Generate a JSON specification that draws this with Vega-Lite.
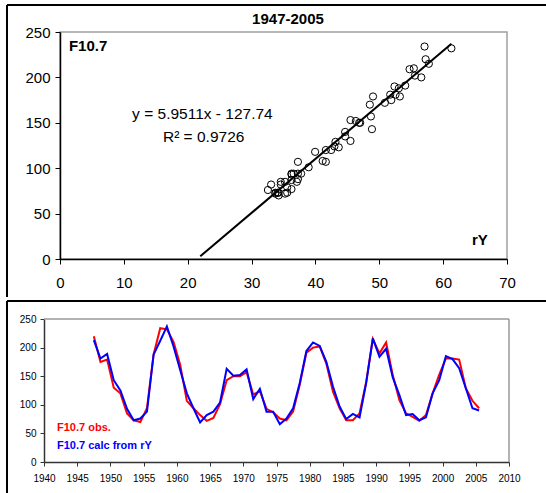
{
  "$schema": "https://vega.github.io/schema/vega-lite/v6.json",
  "padding": {"left": 5, "top": 3, "right": 0, "bottom": 0},
  "background": "white",
  "spacing": 0,
  "config": {"font": "Liberation Sans", "axis": {"grid": false}},
  "datasets": {
    "annual": [
      {"year": 1947.5, "obs": 220, "calc": 213, "rY": 57.26},
      {"year": 1948.5, "obs": 175, "calc": 181, "rY": 51.88},
      {"year": 1949.5, "obs": 179, "calc": 189, "rY": 53.22},
      {"year": 1950.5, "obs": 130, "calc": 143, "rY": 45.49},
      {"year": 1951.5, "obs": 120, "calc": 125, "rY": 42.47},
      {"year": 1952.5, "obs": 85, "calc": 93, "rY": 37.09},
      {"year": 1953.5, "obs": 73, "calc": 73, "rY": 33.73},
      {"year": 1954.5, "obs": 70, "calc": 76, "rY": 34.24},
      {"year": 1955.5, "obs": 94, "calc": 88, "rY": 36.25},
      {"year": 1956.5, "obs": 188, "calc": 188, "rY": 53.06},
      {"year": 1957.5, "obs": 234, "calc": 212, "rY": 57.09},
      {"year": 1958.5, "obs": 232, "calc": 237, "rY": 61.29},
      {"year": 1959.5, "obs": 210, "calc": 202, "rY": 55.41},
      {"year": 1960.5, "obs": 170, "calc": 161, "rY": 48.52},
      {"year": 1961.5, "obs": 107, "calc": 120, "rY": 41.63},
      {"year": 1962.5, "obs": 94, "calc": 94, "rY": 37.26},
      {"year": 1963.5, "obs": 82, "calc": 69, "rY": 33.06},
      {"year": 1964.5, "obs": 72, "calc": 82, "rY": 35.24},
      {"year": 1965.5, "obs": 77, "calc": 88, "rY": 36.25},
      {"year": 1966.5, "obs": 101, "calc": 104, "rY": 38.94},
      {"year": 1967.5, "obs": 143, "calc": 163, "rY": 48.85},
      {"year": 1968.5, "obs": 150, "calc": 151, "rY": 46.84},
      {"year": 1969.5, "obs": 150, "calc": 152, "rY": 47.01},
      {"year": 1970.5, "obs": 157, "calc": 162, "rY": 48.69},
      {"year": 1971.5, "obs": 118, "calc": 110, "rY": 39.95},
      {"year": 1972.5, "obs": 124, "calc": 128, "rY": 42.97},
      {"year": 1973.5, "obs": 93, "calc": 88, "rY": 36.25},
      {"year": 1974.5, "obs": 87, "calc": 88, "rY": 36.25},
      {"year": 1975.5, "obs": 76, "calc": 66, "rY": 32.56},
      {"year": 1976.5, "obs": 73, "calc": 76, "rY": 34.24},
      {"year": 1977.5, "obs": 88, "calc": 94, "rY": 37.26},
      {"year": 1978.5, "obs": 135, "calc": 138, "rY": 44.65},
      {"year": 1979.5, "obs": 191, "calc": 194, "rY": 54.06},
      {"year": 1980.5, "obs": 200, "calc": 209, "rY": 56.58},
      {"year": 1981.5, "obs": 202, "calc": 203, "rY": 55.58},
      {"year": 1982.5, "obs": 172, "calc": 175, "rY": 50.87},
      {"year": 1983.5, "obs": 123, "calc": 132, "rY": 43.65},
      {"year": 1984.5, "obs": 94, "calc": 97, "rY": 37.76},
      {"year": 1985.5, "obs": 73, "calc": 75, "rY": 34.07},
      {"year": 1986.5, "obs": 73, "calc": 84, "rY": 35.58},
      {"year": 1987.5, "obs": 85, "calc": 78, "rY": 34.57},
      {"year": 1988.5, "obs": 140, "calc": 138, "rY": 44.65},
      {"year": 1989.5, "obs": 215, "calc": 216, "rY": 57.76},
      {"year": 1990.5, "obs": 190, "calc": 184, "rY": 52.38},
      {"year": 1991.5, "obs": 209, "calc": 198, "rY": 54.74},
      {"year": 1992.5, "obs": 152, "calc": 148, "rY": 46.33},
      {"year": 1993.5, "obs": 108, "calc": 117, "rY": 41.13},
      {"year": 1994.5, "obs": 85, "calc": 82, "rY": 35.24},
      {"year": 1995.5, "obs": 79, "calc": 84, "rY": 35.58},
      {"year": 1996.5, "obs": 72, "calc": 73, "rY": 33.73},
      {"year": 1997.5, "obs": 82, "calc": 78, "rY": 34.57},
      {"year": 1998.5, "obs": 120, "calc": 120, "rY": 41.63},
      {"year": 1999.5, "obs": 153, "calc": 143, "rY": 45.49},
      {"year": 2000.5, "obs": 181, "calc": 185, "rY": 52.55},
      {"year": 2001.5, "obs": 181, "calc": 180, "rY": 51.71},
      {"year": 2002.5, "obs": 179, "calc": 164, "rY": 49.02},
      {"year": 2003.5, "obs": 129, "calc": 129, "rY": 43.14},
      {"year": 2004.5, "obs": 107, "calc": 94, "rY": 37.26},
      {"year": 2005.5, "obs": 94, "calc": 90, "rY": 36.59}
    ],
    "fit": [
      {"rY": 21.97, "fit": 3.0},
      {"rY": 61.3, "fit": 237.1}
    ]
  },
  "vconcat": [
    {
      "width": 447,
      "height": 227,
      "view": {"stroke": "#a0a0a0", "strokeWidth": 1.5},
      "layer": [
        {
          "data": {"name": "annual"},
          "mark": {"type": "point", "shape": "circle", "filled": false, "color": "black", "size": 52, "strokeWidth": 1, "opacity": 1},
          "encoding": {
            "x": {"field": "rY", "type": "quantitative", "scale": {"domain": [0, 70], "nice": false},
              "axis": {"title": null, "values": [0, 10, 20, 30, 40, 50, 60, 70], "tickCount": 30, "labelOverlap": false, "labelFontSize": 15, "labelColor": "black", "domainColor": "black", "domainWidth": 1.5, "tickColor": "black", "tickSize": 5, "labelPadding": 11, "labelFlush": false}},
            "y": {"field": "obs", "type": "quantitative", "scale": {"domain": [0, 250], "nice": false},
              "axis": {"title": null, "values": [0, 50, 100, 150, 200, 250], "tickCount": 30, "labelOverlap": false, "labelFontSize": 15, "labelColor": "black", "domainColor": "black", "domainWidth": 1.5, "tickColor": "black", "tickSize": 5, "labelPadding": 5}}
          }
        },
        {
          "data": {"name": "fit"},
          "mark": {"type": "line", "color": "black", "strokeWidth": 2},
          "encoding": {
            "x": {"field": "rY", "type": "quantitative"},
            "y": {"field": "fit", "type": "quantitative"}
          }
        },
        {
          "data": {"values": [{}]},
          "mark": {"type": "text", "text": "1947-2005", "fontSize": 15, "fontWeight": "bold", "align": "center", "baseline": "alphabetic", "color": "black"},
          "encoding": {"x": {"datum": 35.7}, "y": {"datum": 258.8}}
        },
        {
          "data": {"values": [{}]},
          "mark": {"type": "text", "text": "F10.7", "fontSize": 15, "fontWeight": "bold", "align": "left", "baseline": "alphabetic", "color": "black"},
          "encoding": {"x": {"datum": 1.4}, "y": {"datum": 229}}
        },
        {
          "data": {"values": [{}]},
          "mark": {"type": "text", "text": "rY", "fontSize": 15, "fontWeight": "bold", "align": "right", "baseline": "alphabetic", "color": "black"},
          "encoding": {"x": {"datum": 67.0}, "y": {"datum": 15.4}}
        },
        {
          "data": {"values": [{}]},
          "mark": {"type": "text", "text": "y = 5.9511x - 127.74", "fontSize": 15.5, "align": "center", "baseline": "alphabetic", "color": "black"},
          "encoding": {"x": {"datum": 22.3}, "y": {"datum": 154.2}}
        },
        {
          "data": {"values": [{}]},
          "mark": {"type": "text", "text": "R² = 0.9726", "fontSize": 15.5, "align": "center", "baseline": "alphabetic", "color": "black"},
          "encoding": {"x": {"datum": 22.5}, "y": {"datum": 128.9}}
        },
        {
          "data": {"values": [{}]},
          "mark": {"type": "rule", "color": "black", "strokeWidth": 2},
          "encoding": {"x": {"datum": -8.3}, "x2": {"datum": 76.11}, "y": {"datum": 279.7}}
        },
        {
          "data": {"values": [{}]},
          "mark": {"type": "rule", "color": "black", "strokeWidth": 2},
          "encoding": {"x": {"datum": -8.3}, "y": {"datum": 279.7}, "y2": {"datum": -41.85}}
        }
      ]
    },
    {
      "width": 449,
      "height": 143,
      "view": {"stroke": null},
      "layer": [
        {
          "data": {"name": "annual"},
          "mark": {"type": "line", "color": "#ff0000", "strokeWidth": 2},
          "encoding": {
            "x": {"field": "year", "type": "quantitative", "scale": {"domain": [1940, 2010], "range": [-16, 449], "nice": false, "zero": false},
              "axis": {"title": null, "values": [1940, 1945, 1950, 1955, 1960, 1965, 1970, 1975, 1980, 1985, 1990, 1995, 2000, 2005, 2010], "tickCount": 40, "labelOverlap": false, "format": "d", "labelFontSize": 10, "labelColor": "black", "domainColor": "#333333", "domainWidth": 1.5, "tickColor": "#333333", "tickSize": 4, "labelPadding": 7, "labelFlush": false}},
            "y": {"field": "obs", "type": "quantitative", "scale": {"domain": [0, 250], "nice": false},
              "axis": {"title": null, "values": [0, 50, 100, 150, 200, 250], "tickCount": 30, "offset": 16, "labelOverlap": false, "labelFontSize": 10, "labelColor": "black", "domainColor": "#333333", "domainWidth": 1.5, "tickColor": "#333333", "tickSize": 4, "labelPadding": 4}}
          }
        },
        {
          "data": {"name": "annual"},
          "mark": {"type": "line", "color": "#0000ff", "strokeWidth": 2},
          "encoding": {
            "x": {"field": "year", "type": "quantitative"},
            "y": {"field": "calc", "type": "quantitative"}
          }
        },
        {
          "data": {"values": [{}]},
          "mark": {"type": "rule", "color": "#999999", "strokeWidth": 1.5},
          "encoding": {"x": {"datum": 1940}, "x2": {"datum": 2010}, "y": {"datum": 250}}
        },
        {
          "data": {"values": [{}]},
          "mark": {"type": "rule", "color": "#999999", "strokeWidth": 1.5},
          "encoding": {"x": {"datum": 2010}, "y": {"datum": 0}, "y2": {"datum": 250}}
        },
        {
          "data": {"values": [{}]},
          "mark": {"type": "text", "text": "F10.7 obs.", "fontSize": 11, "fontWeight": "bold", "align": "left", "baseline": "alphabetic", "color": "#ff0000"},
          "encoding": {"x": {"datum": 1941.96}, "y": {"datum": 53.7}}
        },
        {
          "data": {"values": [{}]},
          "mark": {"type": "text", "text": "F10.7 calc from rY", "fontSize": 11, "fontWeight": "bold", "align": "left", "baseline": "alphabetic", "color": "#0000ff"},
          "encoding": {"x": {"datum": 1941.96}, "y": {"datum": 23.3}}
        },
        {
          "data": {"values": [{}]},
          "mark": {"type": "rule", "color": "black", "strokeWidth": 2},
          "encoding": {"x": {"datum": 1934.43}, "x2": {"datum": 2015.57}, "y": {"datum": 281.5}}
        },
        {
          "data": {"values": [{}]},
          "mark": {"type": "rule", "color": "black", "strokeWidth": 2},
          "encoding": {"x": {"datum": 1934.43}, "y": {"datum": 281.5}, "y2": {"datum": -57.7}}
        },
        {
          "data": {"values": [{}]},
          "mark": {"type": "rule", "color": "black", "strokeWidth": 2},
          "encoding": {"x": {"datum": 1934.43}, "x2": {"datum": 2015.57}, "y": {"datum": -57.7}}
        }
      ]
    }
  ]
}
